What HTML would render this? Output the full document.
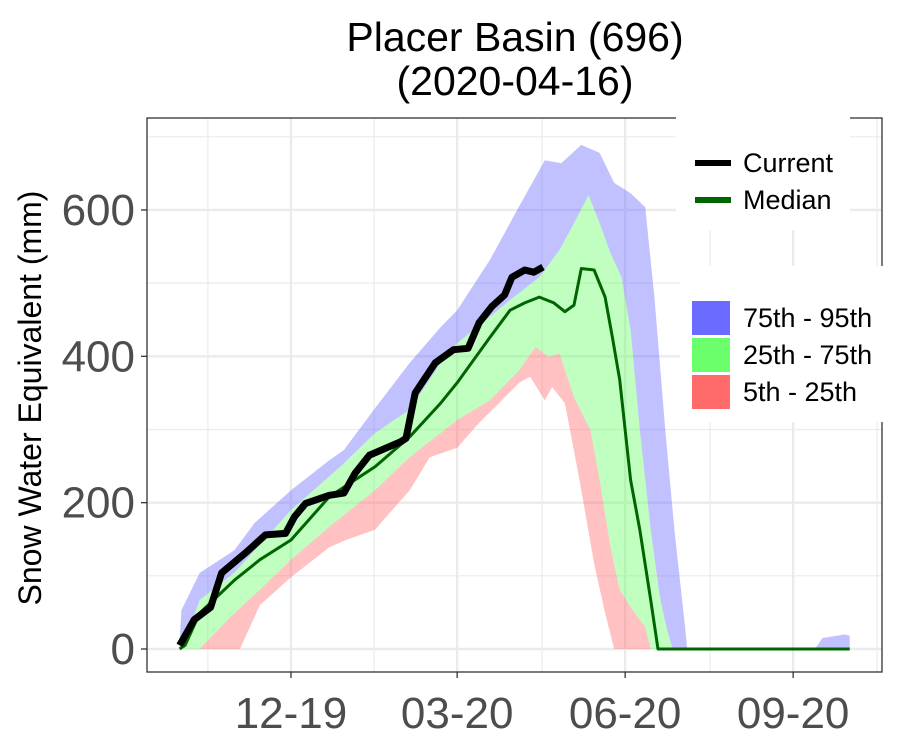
<!DOCTYPE html>
<html><head><meta charset="utf-8"><style>
body{margin:0;background:#fff}
svg text{font-family:"Liberation Sans",sans-serif}
</style></head><body>
<svg id="chart" width="900" height="750" xmlns="http://www.w3.org/2000/svg">
<text x="515" y="51" font-size="41" text-anchor="middle">Placer Basin (696)</text>
<text x="515" y="95" font-size="41" text-anchor="middle">(2020-04-16)</text>
<text transform="translate(41,398) rotate(-90)" font-size="32" text-anchor="middle">Snow Water Equivalent (mm)</text>
<g id="grid"></g><g id="bands"></g><g id="lines"></g><g id="axes"></g>
<rect x="147" y="118" width="735" height="554" fill="none" stroke="#333" stroke-width="1.3"/>
<g>
<rect x="676" y="110" width="174" height="120" fill="#fff"/>
<line x1="695" y1="163" x2="731" y2="163" stroke="#000" stroke-width="6"/>
<text x="743" y="172" font-size="27">Current</text>
<line x1="695" y1="200" x2="731" y2="200" stroke="#006400" stroke-width="6"/>
<text x="743" y="209" font-size="27">Median</text>
</g>
<g>
<rect x="680" y="266" width="205" height="156" fill="#fff"/>
<rect x="692" y="301" width="38" height="34" fill="#6b6bff"/>
<text x="743" y="327" font-size="27">75th - 95th</text>
<rect x="692" y="338" width="38" height="34" fill="#6bff6b"/>
<text x="743" y="364" font-size="27">25th - 75th</text>
<rect x="692" y="375" width="38" height="34" fill="#ff6b6b"/>
<text x="743" y="401" font-size="27">5th - 25th</text>
</g>
</svg>
<script>
const yTicks=[0,200,400,600];
const xTickLabels=["12-19","03-20","06-20","09-20"];
const xTickDays=[61,152,244,336];
const p95Days=[0,1,11,30,41,61,82,90,107,126,143,152,170,186,200,209,220,230,238,247,255,260,266,271,277,278,348,352,360,364,367];
const p95Vals=[10,53,104,135,172,217,258,272,329,391,440,463,532,605,668,664,689,678,637,623,604,481,299,163,26,0,0,15,18,20,18];
const p75Days=[0,3,11,30,61,88,107,126,143,152,170,181,197,208,216,224,230,236,242,247,252,258,263,267,270,367];
const p75Vals=[0,12,67,104,190,249,295,327,391,418,454,477,508,545,582,620,582,541,508,436,299,163,71,26,0,0];
const p25Days=[0,11,28,44,61,82,107,126,152,170,186,195,202,208,216,225,230,236,241,247,255,258,367];
const p25Vals=[0,0,44,81,122,167,217,262,313,340,381,413,399,404,344,299,231,139,81,57,30,0,0];
const p5Days=[0,33,44,61,82,91,107,126,137,152,164,175,186,192,200,204,211,219,227,233,238,367];
const p5Vals=[0,0,60,98,139,149,163,217,262,275,309,336,364,372,340,358,336,231,117,49,0,0];
const medDays=[0,3,11,30,44,61,82,107,126,143,152,170,181,189,197,205,211,216,220,227,233,237,241,247,252,258,262,367];
const medVals=[0,5,49,94,122,149,208,249,290,336,364,426,463,473,481,473,461,470,520,518,481,426,368,231,163,67,0,0];
const curDays=[0,8,17,23,36,47,58,63,69,82,90,96,104,121,124,129,140,150,158,164,171,178,182,189,194,199];
const curVals=[5,40,57,104,131,156,158,181,199,210,213,240,265,283,288,350,391,409,411,446,468,484,508,518,515,522];

const NS="http://www.w3.org/2000/svg";
const xS=d=>179.6+d*1.826;
const yS=v=>649-v*0.7317;
function mk(tag,attrs,parent){const e=document.createElementNS(NS,tag);for(const k in attrs)e.setAttribute(k,attrs[k]);document.getElementById(parent).appendChild(e);return e;}
function pts(days,vals){return days.map((d,i)=>xS(d).toFixed(1)+","+yS(vals[i]).toFixed(1));}
for(let v=100;v<=700;v+=200){const g=mk('line',{x1:147,x2:882,y1:yS(v),y2:yS(v),stroke:'#ebebeb','stroke-width':1.2},'grid');

}
yTicks.forEach(v=>{const g=mk('line',{x1:147,x2:882,y1:yS(v),y2:yS(v),stroke:'#ebebeb','stroke-width':2.4},'grid');


const t=mk('text',{x:135,y:yS(v)+15,'font-size':44,'text-anchor':'end',fill:'#4d4d4d'},'axes');t.textContent=v;


const tk=mk('line',{x1:141,x2:147,y1:yS(v),y2:yS(v),stroke:'#333','stroke-width':1.3},'axes');

});
xTickDays.forEach((d,i)=>{const m=mk('line',{x1:xS(d-45.5),x2:xS(d-45.5),y1:118,y2:672,stroke:'#ebebeb','stroke-width':1.2},'grid');


const g=mk('line',{x1:xS(d),x2:xS(d),y1:118,y2:672,stroke:'#ebebeb','stroke-width':2.4},'grid');


const t=mk('text',{x:xS(d),y:728,'font-size':44,'text-anchor':'middle',fill:'#4d4d4d'},'axes');t.textContent=xTickLabels[i];


const tk=mk('line',{x1:xS(d),x2:xS(d),y1:672,y2:678,stroke:'#333','stroke-width':1.3},'axes');

});
{const m=mk('line',{x1:xS(336+46),x2:xS(336+46),y1:118,y2:672,stroke:'#ebebeb','stroke-width':1.2},'grid');

}
function band(tD,tV,bD,bV,color,name){const p=pts(tD,tV).concat(pts(bD,bV).reverse());
const e=mk('polygon',{points:p.join(' '),fill:color,'fill-opacity':0.42},'bands');

}
band(p95Days,p95Vals,p75Days,p75Vals,'#6b6bff','band-75-95');
band(p75Days,p75Vals,p25Days,p25Vals,'#6bff6b','band-25-75');
band(p25Days,p25Vals,p5Days,p5Vals,'#ff6b6b','band-5-25');
const med=mk('polyline',{points:pts(medDays,medVals).join(' '),fill:'none',stroke:'#006400','stroke-width':3,'stroke-linejoin':'round'},'lines');


const cur=mk('polyline',{points:pts(curDays,curVals).join(' '),fill:'none',stroke:'#000','stroke-width':7,'stroke-linejoin':'round'},'lines');


</script>
</body></html>
